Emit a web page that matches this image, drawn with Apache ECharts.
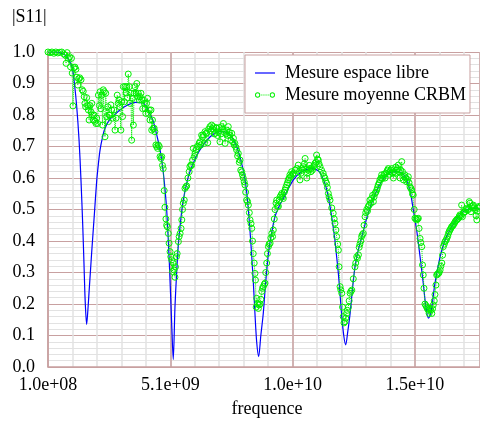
<!DOCTYPE html>
<html>
<head>
<meta charset="utf-8">
<script src="https://cdn.jsdelivr.net/npm/echarts@6.0.0/dist/echarts.min.js"></script>
<style>
  html, body { margin: 0; padding: 0; background: #fff; }
  #chart { width: 480px; height: 422px; }
</style>
</head>
<body>
<div id="chart"></div>
<script>
// frequences en GHz, |S11|
let espaceLibre = [
  [0.10,1.000],[0.40,1.000],[0.59,0.998],[0.80,0.990],[0.95,0.975],[1.09,0.950],[1.18,0.900],[1.27,0.830],
  [1.37,0.720],[1.45,0.590],[1.52,0.450],[1.57,0.330],[1.62,0.210],[1.68,0.135],[1.73,0.180],[1.78,0.240],
  [1.84,0.310],[1.90,0.380],[2.00,0.490],[2.09,0.590],[2.16,0.645],[2.23,0.690],[2.33,0.730],[2.43,0.758],
  [2.62,0.785],[2.84,0.802],[3.08,0.818],[3.32,0.830],[3.66,0.840],[3.99,0.838],[4.19,0.815],[4.40,0.780],
  [4.55,0.735],[4.68,0.690],[4.81,0.620],[4.95,0.500],[5.06,0.330],[5.16,0.130],[5.22,0.024],[5.29,0.190],
  [5.36,0.300],[5.43,0.390],[5.53,0.470],[5.63,0.530],[5.76,0.580],[5.90,0.620],[6.24,0.680],[6.72,0.730],
  [7.13,0.747],[7.47,0.742],[7.81,0.700],[8.08,0.625],[8.20,0.570],[8.29,0.500],[8.36,0.430],[8.43,0.350],
  [8.50,0.260],[8.56,0.170],[8.63,0.080],[8.71,0.033],[8.80,0.100],[8.90,0.170],[9.00,0.270],[9.11,0.360],
  [9.24,0.425],[9.38,0.477],[9.55,0.510],[9.72,0.535],[10.13,0.594],[10.47,0.620],[10.88,0.630],[11.15,0.623],
  [11.30,0.605],[11.42,0.583],[11.53,0.550],[11.63,0.509],[11.73,0.460],[11.83,0.403],[11.90,0.350],[11.97,0.297],
  [12.04,0.230],[12.11,0.160],[12.19,0.100],[12.27,0.070],[12.35,0.110],[12.45,0.170],[12.55,0.250],[12.65,0.318],
  [12.78,0.370],[12.93,0.414],[13.19,0.488],[13.54,0.560],[13.95,0.610],[14.36,0.620],[14.55,0.616],[14.70,0.604],
  [14.90,0.560],[15.03,0.500],[15.17,0.435],[15.31,0.350],[15.44,0.266],[15.55,0.190],[15.65,0.155],[15.72,0.165],
  [15.79,0.190],[15.92,0.266],[16.13,0.350],[16.33,0.403],[16.60,0.445],[16.94,0.483],[17.22,0.500],[17.62,0.504],
  [17.76,0.500]
];

let moyenneCRBM = [
  [0.10,1.000],[0.18,0.998],[0.26,1.000],[0.34,0.996],[0.42,1.000],[0.50,0.997],[0.58,0.999],[0.66,1.000],
  [0.74,0.994],[0.80,0.990],[0.84,0.964],[0.88,0.998],[0.93,0.980],[0.98,0.985],[1.02,0.953],[1.06,0.980],
  [1.09,0.933],[1.12,0.829],[1.16,0.950],[1.20,0.952],[1.24,0.945],[1.28,0.920],[1.32,0.895],[1.35,0.915],
  [1.40,0.918],[1.45,0.912],[1.50,0.880],[1.54,0.875],[1.58,0.858],[1.61,0.837],[1.64,0.826],[1.68,0.855],
  [1.72,0.830],[1.75,0.816],[1.78,0.784],[1.82,0.830],[1.86,0.810],[1.89,0.837],[1.92,0.800],[1.95,0.784],
  [1.98,0.800],[2.02,0.780],[2.06,0.773],[2.09,0.790],[2.13,0.773],[2.16,0.863],[2.20,0.830],[2.23,0.874],
  [2.26,0.820],[2.30,0.863],[2.33,0.768],[2.36,0.880],[2.40,0.874],[2.43,0.731],[2.46,0.869],[2.50,0.795],
  [2.54,0.826],[2.57,0.779],[2.60,0.800],[2.63,0.800],[2.67,0.832],[2.70,0.816],[2.74,0.790],[2.80,0.816],
  [2.84,0.752],[2.88,0.790],[2.93,0.863],[2.97,0.837],[3.00,0.848],[3.04,0.826],[3.08,0.752],[3.11,0.842],
  [3.15,0.795],[3.18,0.890],[3.22,0.842],[3.25,0.890],[3.29,0.870],[3.32,0.890],[3.35,0.855],[3.38,0.930],
  [3.42,0.890],[3.45,0.837],[3.49,0.869],[3.52,0.720],[3.55,0.853],[3.59,0.768],[3.62,0.869],[3.66,0.890],
  [3.70,0.869],[3.73,0.900],[3.76,0.858],[3.79,0.869],[3.83,0.848],[3.86,0.858],[3.90,0.869],[3.93,0.848],
  [3.97,0.820],[4.00,0.848],[4.04,0.837],[4.07,0.820],[4.10,0.805],[4.13,0.837],[4.17,0.853],[4.20,0.805],
  [4.24,0.816],[4.27,0.784],[4.31,0.816],[4.34,0.752],[4.37,0.784],[4.40,0.757],[4.44,0.758],[4.47,0.747],
  [4.51,0.705],[4.54,0.700],[4.58,0.694],[4.61,0.705],[4.65,0.700],[4.68,0.668],[4.72,0.662],[4.75,0.668],
  [4.78,0.640],[4.81,0.630],[4.85,0.560],[4.88,0.507],[4.92,0.470],[4.95,0.450],[4.98,0.445],[5.02,0.424],
  [5.05,0.393],[5.09,0.366],[5.12,0.350],[5.16,0.340],[5.19,0.303],[5.22,0.330],[5.25,0.308],[5.29,0.285],
  [5.31,0.318],[5.35,0.350],[5.38,0.360],[5.43,0.398],[5.46,0.414],[5.50,0.424],[5.54,0.440],[5.57,0.467],
  [5.60,0.500],[5.63,0.520],[5.67,0.530],[5.70,0.567],[5.74,0.572],[5.77,0.575],[5.82,0.600],[5.87,0.620],
  [5.90,0.636],[5.94,0.641],[5.97,0.640],[6.01,0.657],[6.04,0.694],[6.08,0.668],[6.11,0.678],[6.15,0.690],
  [6.20,0.700],[6.25,0.700],[6.28,0.710],[6.31,0.715],[6.35,0.705],[6.38,0.736],[6.42,0.730],[6.45,0.736],
  [6.49,0.710],[6.52,0.747],[6.56,0.742],[6.59,0.742],[6.63,0.712],[6.67,0.755],[6.72,0.763],[6.75,0.750],
  [6.79,0.768],[6.82,0.756],[6.86,0.763],[6.90,0.740],[6.93,0.742],[6.97,0.760],[7.00,0.758],[7.03,0.735],
  [7.06,0.747],[7.10,0.760],[7.13,0.715],[7.17,0.740],[7.20,0.763],[7.24,0.755],[7.27,0.773],[7.31,0.745],
  [7.34,0.710],[7.38,0.740],[7.41,0.752],[7.44,0.735],[7.47,0.763],[7.51,0.745],[7.54,0.736],[7.58,0.720],
  [7.61,0.742],[7.65,0.715],[7.68,0.726],[7.71,0.705],[7.74,0.710],[7.78,0.698],[7.81,0.689],[7.85,0.670],
  [7.88,0.678],[7.92,0.650],[7.95,0.657],[7.98,0.625],[8.02,0.620],[8.05,0.610],[8.08,0.600],[8.12,0.588],
  [8.15,0.578],[8.18,0.555],[8.22,0.530],[8.26,0.525],[8.29,0.514],[8.33,0.490],[8.36,0.467],[8.40,0.455],
  [8.43,0.440],[8.46,0.400],[8.49,0.360],[8.53,0.330],[8.56,0.297],[8.58,0.276],[8.61,0.190],[8.63,0.218],
  [8.67,0.200],[8.70,0.186],[8.73,0.197],[8.77,0.200],[8.80,0.215],[8.84,0.240],[8.87,0.250],[8.90,0.255],
  [8.94,0.262],[8.97,0.266],[9.00,0.300],[9.04,0.330],[9.07,0.360],[9.11,0.382],[9.14,0.390],[9.18,0.393],
  [9.21,0.410],[9.25,0.424],[9.28,0.414],[9.31,0.435],[9.35,0.470],[9.38,0.500],[9.42,0.520],[9.45,0.530],
  [9.48,0.510],[9.52,0.510],[9.55,0.530],[9.59,0.540],[9.62,0.545],[9.66,0.551],[9.69,0.540],[9.72,0.535],
  [9.76,0.555],[9.79,0.562],[9.82,0.570],[9.86,0.578],[9.89,0.585],[9.92,0.594],[9.96,0.600],[9.99,0.610],
  [10.03,0.605],[10.06,0.620],[10.10,0.612],[10.13,0.615],[10.20,0.625],[10.27,0.630],[10.33,0.641],[10.37,0.620],
  [10.40,0.594],[10.44,0.615],[10.47,0.630],[10.51,0.625],[10.54,0.636],[10.58,0.645],[10.61,0.662],[10.65,0.630],
  [10.68,0.600],[10.71,0.615],[10.74,0.625],[10.78,0.640],[10.81,0.630],[10.85,0.620],[10.88,0.630],[10.91,0.625],
  [10.95,0.636],[10.98,0.640],[11.01,0.646],[11.05,0.650],[11.08,0.673],[11.12,0.660],[11.15,0.657],[11.18,0.645],
  [11.22,0.636],[11.28,0.625],[11.35,0.615],[11.38,0.605],[11.42,0.600],[11.45,0.590],[11.49,0.583],[11.52,0.570],
  [11.56,0.551],[11.59,0.540],[11.63,0.530],[11.70,0.505],[11.76,0.488],[11.80,0.470],[11.83,0.456],[11.87,0.435],
  [11.90,0.414],[11.94,0.390],[11.97,0.371],[12.00,0.318],[12.04,0.255],[12.07,0.245],[12.11,0.234],[12.14,0.190],
  [12.17,0.160],[12.20,0.140],[12.24,0.144],[12.27,0.155],[12.31,0.170],[12.34,0.180],[12.38,0.190],[12.41,0.210],
  [12.45,0.234],[12.48,0.240],[12.52,0.244],[12.58,0.280],[12.65,0.318],[12.68,0.330],[12.72,0.350],[12.75,0.345],
  [12.79,0.356],[12.82,0.380],[12.85,0.390],[12.89,0.400],[12.92,0.414],[12.95,0.420],[12.99,0.424],[13.02,0.450],
  [13.06,0.477],[13.09,0.490],[13.13,0.500],[13.16,0.495],[13.19,0.509],[13.23,0.514],[13.26,0.530],[13.30,0.520],
  [13.33,0.535],[13.37,0.545],[13.40,0.525],[13.43,0.540],[13.47,0.551],[13.50,0.555],[13.54,0.562],[13.57,0.570],
  [13.60,0.578],[13.64,0.585],[13.67,0.594],[13.71,0.600],[13.74,0.610],[13.77,0.598],[13.81,0.604],[13.84,0.612],
  [13.88,0.600],[13.91,0.615],[13.95,0.620],[13.98,0.625],[14.01,0.630],[14.05,0.612],[14.08,0.620],[14.12,0.625],
  [14.15,0.630],[14.18,0.615],[14.22,0.600],[14.25,0.620],[14.29,0.615],[14.32,0.635],[14.35,0.625],[14.39,0.630],
  [14.42,0.641],[14.45,0.620],[14.49,0.600],[14.52,0.625],[14.56,0.652],[14.59,0.620],[14.63,0.594],[14.66,0.605],
  [14.69,0.610],[14.73,0.600],[14.76,0.588],[14.80,0.595],[14.83,0.604],[14.86,0.585],[14.90,0.572],[14.93,0.568],
  [14.97,0.562],[15.00,0.550],[15.03,0.546],[15.07,0.500],[15.10,0.472],[15.14,0.470],[15.17,0.467],[15.21,0.470],
  [15.24,0.472],[15.27,0.440],[15.31,0.408],[15.34,0.395],[15.38,0.382],[15.41,0.324],[15.44,0.292],[15.47,0.250],
  [15.51,0.200],[15.55,0.195],[15.58,0.190],[15.61,0.185],[15.65,0.180],[15.68,0.170],[15.72,0.186],[15.75,0.180],
  [15.79,0.170],[15.82,0.185],[15.85,0.197],[15.89,0.210],[15.92,0.230],[15.96,0.260],[15.99,0.292],[16.02,0.295],
  [16.06,0.297],[16.09,0.300],[16.13,0.308],[16.16,0.320],[16.20,0.330],[16.23,0.355],[16.26,0.382],[16.30,0.390],
  [16.33,0.398],[16.37,0.402],[16.40,0.408],[16.44,0.415],[16.47,0.424],[16.50,0.430],[16.53,0.435],[16.57,0.440],
  [16.60,0.445],[16.64,0.448],[16.67,0.451],[16.71,0.456],[16.74,0.461],[16.78,0.465],[16.81,0.467],[16.84,0.470],
  [16.88,0.472],[16.91,0.478],[16.94,0.483],[16.98,0.480],[17.01,0.514],[17.04,0.477],[17.08,0.488],[17.11,0.492],
  [17.15,0.493],[17.18,0.500],[17.22,0.504],[17.25,0.500],[17.29,0.500],[17.32,0.525],[17.35,0.520],[17.39,0.493],
  [17.42,0.509],[17.46,0.512],[17.49,0.514],[17.53,0.505],[17.56,0.500],[17.60,0.480],[17.63,0.467],[17.66,0.495],
  [17.70,0.504],[17.73,0.510],[17.76,0.508]
];

let legendNames = ['Mesure espace libre', 'Mesure moyenne CRBM'];

let font = '"Times New Roman", "Liberation Serif", serif';
let majorColor = '#c8a0a0';
let minorColor = '#e2e2e2';
let green = '#00f000';
let xMin = 1e8, xMax = 1.776e10;

// icone de legende : deux cercles relies par des points
let iconCRBM = 'path://M0.5,3A2.5,2.5 0 1,0 5.5,3A2.5,2.5 0 1,0 0.5,3Z' +
  'M1.4,3A1.6,1.6 0 1,1 4.6,3A1.6,1.6 0 1,1 1.4,3Z' +
  'M14.5,3A2.5,2.5 0 1,0 19.5,3A2.5,2.5 0 1,0 14.5,3Z' +
  'M15.4,3A1.6,1.6 0 1,1 18.6,3A1.6,1.6 0 1,1 15.4,3Z' +
  'M6.5,2.6H7.5V3.4H6.5Z M8.5,2.6H9.5V3.4H8.5Z M10.5,2.6H11.5V3.4H10.5Z M12.5,2.6H13.5V3.4H12.5Z';

// GHz -> Hz
function toHz(pts) {
  return pts.map(function (p) { return [p[0] * 1e9, p[1]]; });
}

// 1.0e+8 -> 1.0e+08
function expLabel(v) {
  return v.toExponential(1).replace(/e([+-])(\d)$/, 'e$10$2');
}

let myChart = echarts.init(document.getElementById('chart'));

let option = {
  animation: false,
  backgroundColor: '#fff',
  textStyle: { fontFamily: font },
  grid: { left: 48, top: 52, bottom: 55, right: 0 },
  legend: {
    data: [
      { name: legendNames[0], icon: 'path://M0,0H20V1.2H0Z' },
      { name: legendNames[1], icon: iconCRBM, itemStyle: { color: green, borderWidth: 0 } }
    ],
    orient: 'vertical',
    left: 245,
    top: 55,
    padding: [9, 4, 9, 10],
    itemWidth: 20,
    itemHeight: 10,
    itemGap: 4,
    backgroundColor: '#fff',
    borderColor: majorColor,
    borderWidth: 1,
    textStyle: { fontFamily: font, fontSize: 18, color: '#000', padding: [0, 0, 0, 5] }
  },
  graphic: [
    { type: 'text', left: 12, top: 8, style: { text: '|S11|', font: '18px "Times New Roman", "Liberation Serif", serif', fill: '#000' } },
    { type: 'text', x: 267, y: 409, style: { text: 'frequence', font: '18px "Times New Roman", "Liberation Serif", serif', fill: '#000', align: 'center', verticalAlign: 'middle' } }
  ],
  xAxis: [
    {
      // graduations principales
      type: 'value',
      min: xMin,
      max: xMax,
      interval: 5e9,
      z: 2,
      axisLine: { show: true, onZero: false, lineStyle: { color: majorColor, width: 1.5 } },
      axisTick: { show: false },
      axisLabel: { color: '#000', fontSize: 18, fontFamily: font, margin: 9, showMaxLabel: false, formatter: expLabel },
      splitLine: { show: true, lineStyle: { color: majorColor, width: 1.5 } }
    },
    {
      // graduations secondaires, tous les 1e9
      type: 'value',
      min: xMin,
      max: xMax,
      interval: 1e9,
      position: 'bottom',
      z: 0,
      axisLine: { show: false },
      axisTick: { show: false },
      axisLabel: { show: false },
      splitLine: { show: true, lineStyle: { color: minorColor, width: 1.5 } }
    }
  ],
  yAxis: {
    type: 'value',
    min: 0,
    max: 1,
    interval: 0.1,
    axisLine: { show: true, lineStyle: { color: majorColor, width: 1.5 } },
    axisTick: { show: false },
    axisLabel: { color: '#000', fontSize: 18, fontFamily: font, margin: 13, formatter: function (v) { return v.toFixed(1); } },
    splitLine: { show: true, lineStyle: { color: majorColor, width: 1 } },
    minorTick: { show: false, splitNumber: 5 },
    minorSplitLine: { show: true, lineStyle: { color: minorColor, width: 1 } }
  },
  series: [
    {
      name: legendNames[0],
      type: 'line',
      data: toHz(espaceLibre),
      showSymbol: false,
      symbol: 'none',
      smooth: 0.3,
      lineStyle: { color: '#0000ff', width: 1.2 },
      itemStyle: { color: '#0000ff' },
      z: 2
    },
    {
      name: legendNames[1],
      type: 'line',
      data: toHz(moyenneCRBM),
      symbol: 'circle',
      symbolSize: 6,
      lineStyle: { color: green, width: 1, type: 'dotted' },
      itemStyle: { color: 'rgba(255,255,255,0)', borderColor: green, borderWidth: 1 },
      z: 3
    }
  ]
};

myChart.setOption(option);
</script>
</body>
</html>
